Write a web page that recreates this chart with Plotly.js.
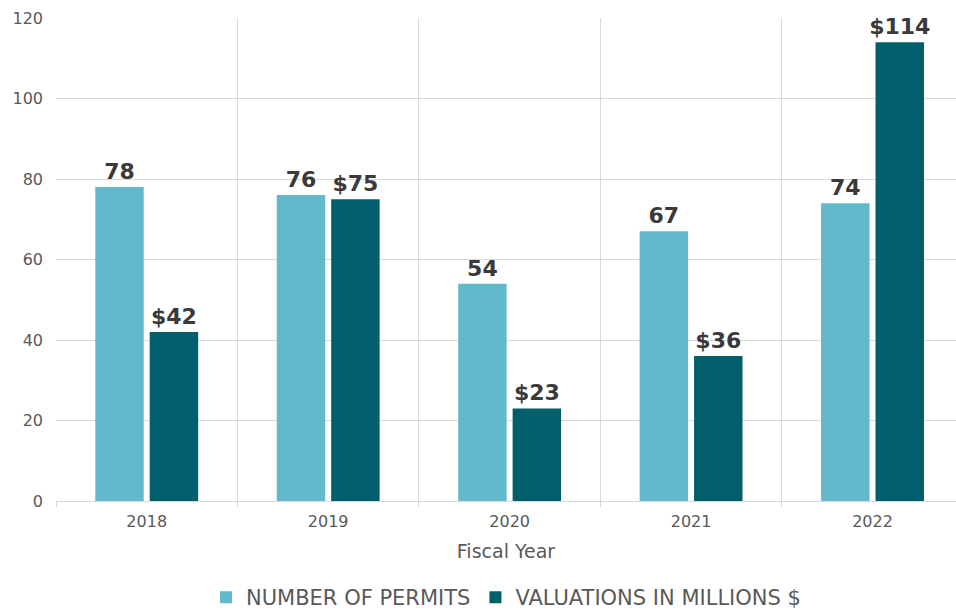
<!DOCTYPE html>
<html>
<head>
<meta charset="utf-8">
<script src="https://cdn.plot.ly/plotly-3.0.1.min.js"></script>
<style>html,body{margin:0;padding:0;background:#fff;}#chart{width:956px;height:610px;}</style>
</head>
<body>
<div id="chart"></div>
<script>
const years = ["2018", "2019", "2020", "2021", "2022"];
const permits = [78, 76, 54, 67, 74];
const valuations = [42, 75, 23, 36, 114];
const seriesNames = ["NUMBER OF PERMITS", "VALUATIONS IN MILLIONS $"];
const yTicks = [0, 20, 40, 60, 80, 100, 120];

const labelFont = {family: "'DejaVu Sans', sans-serif", size: 22, color: "#3a3a3a", weight: "bold"};

const traces = [
  {
    type: "bar", name: seriesNames[0], x: years, y: permits,
    marker: {color: "#62B9CC"},
    text: permits.map(v => String(v)), textposition: "outside", constraintext: "none",
    textfont: labelFont, cliponaxis: false, hoverinfo: "x+y"
  },
  {
    type: "bar", name: seriesNames[1], x: years, y: valuations,
    marker: {color: "#005F6B"},
    text: valuations.map(v => "$" + v), textposition: "outside", constraintext: "none",
    textfont: labelFont, cliponaxis: false, hoverinfo: "x+y"
  }
];

const layout = {
  width: 956, height: 610,
  margin: {l: 56, r: 0, t: 18, b: 109, autoexpand: false},
  paper_bgcolor: "#ffffff", plot_bgcolor: "#ffffff",
  barmode: "group", bargap: 0.4, bargroupgap: 0.11,
  font: {family: "'DejaVu Sans', sans-serif", color: "#595959"},
  xaxis: {
    type: "category", range: [-0.5, 4.46],
    tickson: "boundaries", showgrid: true, gridcolor: "#d9d9d9", gridwidth: 1,
    ticks: "outside", ticklen: 5, tickcolor: "#d9d9d9",
    showline: true, linecolor: "#d9d9d9", linewidth: 1,
    ticklabelstandoff: 6,
    tickfont: {size: 16, color: "#595959"},
    title: {text: "Fiscal Year", font: {size: 19, color: "#595959"}, standoff: 14}
  },
  yaxis: {
    range: [0, 120], tickvals: yTicks, ticktext: yTicks.map(String),
    showgrid: true, gridcolor: "#d9d9d9", gridwidth: 1, zeroline: false,
    showline: false, ticks: "", ticklabelstandoff: 12, tickfont: {size: 16, color: "#595959"}
  },
  showlegend: true,
  legend: {
    orientation: "h", x: 0.5, xanchor: "center", y: -0.2, yanchor: "middle",
    font: {size: 21, color: "#595959"}, itemwidth: 30, tracegroupgap: 0
  }
};

Plotly.newPlot("chart", traces, layout, {displayModeBar: false, staticPlot: true});
</script>
</body>
</html>
